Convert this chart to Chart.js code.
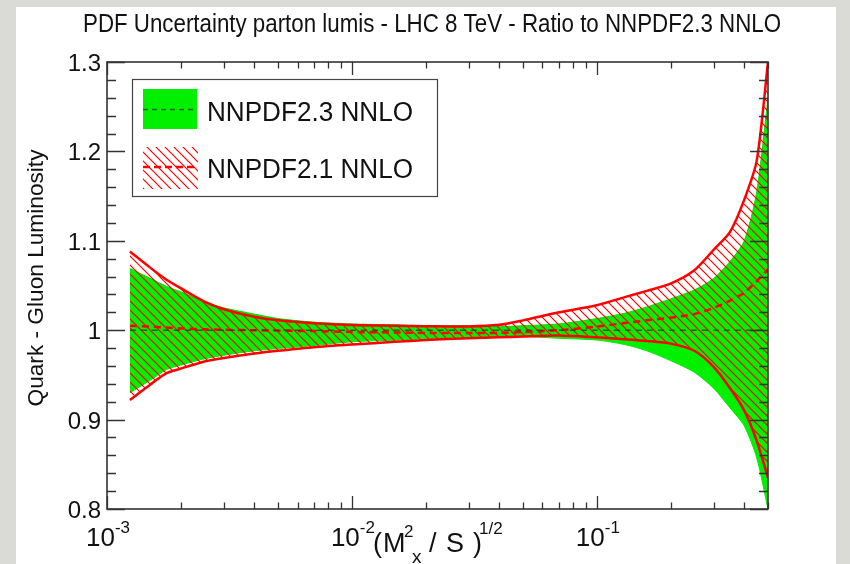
<!DOCTYPE html>
<html>
<head>
<meta charset="utf-8">
<script src="https://cdn.jsdelivr.net/npm/chart.js@4.4.0/dist/chart.umd.min.js"></script>
<style>
  html, body { margin: 0; padding: 0; background: #dadad6; }
  canvas { display: block; }
</style>
</head>
<body>
<canvas id="lumi" width="850" height="564"></canvas>
<script>
// ( M_X^2 / S )^1/2 sampling points
const tau = [0.00124, 0.0015, 0.00175, 0.002, 0.0025, 0.003, 0.004, 0.005, 0.007, 0.01, 0.015, 0.02, 0.03, 0.04, 0.05, 0.07, 0.1, 0.13, 0.16, 0.2, 0.25, 0.3, 0.35, 0.4, 0.45, 0.5];

// NNPDF2.3 NNLO band (the reference, so the central value is 1)
const nn23Central = [1, 1, 1, 1, 1, 1, 1, 1, 1, 1, 1, 1, 1, 1, 1, 1, 1, 1, 1, 1, 1, 1, 1, 1, 1, 1];
const nn23Up   = [1.069, 1.058, 1.049, 1.043, 1.032, 1.025, 1.018, 1.013, 1.009, 1.007, 1.006, 1.005, 1.005, 1.004, 1.005, 1.007, 1.013, 1.019, 1.026, 1.035, 1.045, 1.058, 1.077, 1.100, 1.155, 1.260];
const nn23Down = [0.930, 0.944, 0.956, 0.961, 0.968, 0.972, 0.977, 0.9795, 0.983, 0.987, 0.989, 0.9905, 0.992, 0.993, 0.993, 0.991, 0.989, 0.984, 0.977, 0.966, 0.953, 0.935, 0.913, 0.893, 0.857, 0.800];

// NNPDF2.1 NNLO band
const nn21Central = [1.005, 1.004, 1.003, 1.002, 1.001, 1.0005, 1.000, 0.9995, 0.999, 0.998, 0.9975, 0.997, 0.997, 0.997, 0.998, 1.000, 1.004, 1.008, 1.011, 1.014, 1.018, 1.025, 1.033, 1.042, 1.055, 1.068];
const nn21Up   = [1.088, 1.070, 1.0565, 1.047, 1.032, 1.0235, 1.015, 1.011, 1.0077, 1.0057, 1.005, 1.0045, 1.0042, 1.006, 1.011, 1.020, 1.028, 1.037, 1.044, 1.052, 1.067, 1.090, 1.110, 1.146, 1.190, 1.300];
const nn21Down = [0.922, 0.939, 0.952, 0.957, 0.965, 0.969, 0.974, 0.977, 0.981, 0.984, 0.987, 0.989, 0.991, 0.992, 0.993, 0.994, 0.992, 0.990, 0.988, 0.985, 0.977, 0.959, 0.935, 0.910, 0.876, 0.835];

// axis ticks
const yTicks = [0.8, 0.9, 1.0, 1.1, 1.2, 1.3];
const yTickLabels = ['0.8', '0.9', '1', '1.1', '1.2', '1.3'];
const xDecades = [0.001, 0.01, 0.1];
const xDecadeExp = ['-3', '-2', '-1'];

const legendNames = ['NNPDF2.3 NNLO', 'NNPDF2.1 NNLO'];
const title = 'PDF Uncertainty parton lumis - LHC 8 TeV - Ratio to NNPDF2.3 NNLO';
const yTitle = 'Quark - Gluon Luminosity';

const GREEN = '#00f000';
const RED = '#ff0000';
const FONT = '"Liberation Sans", Arial, Helvetica, sans-serif';

let canvas = document.getElementById('lumi');
let ctx = canvas.getContext('2d');

function makeHatch(c){
  let s = 9;
  let p = document.createElement('canvas');
  p.width = s; p.height = s;
  let g = p.getContext('2d');
  g.strokeStyle = RED;
  g.lineWidth = 1.2;
  g.beginPath();
  g.moveTo(-1, -1); g.lineTo(s + 1, s + 1);
  g.moveTo(-1, s - 1); g.lineTo(1, s + 1);
  g.moveTo(s - 1, -1); g.lineTo(s + 1, 1);
  g.stroke();
  return c.createPattern(p, 'repeat');
}
let hatch = makeHatch(ctx);

function pts(ys){
  return tau.map((t, i) => ({x: t, y: ys[i]}));
}

// draw text, optionally squeezed/stretched to a given width
function txt(c, str, x, y, size, width, align){
  c.save();
  c.font = size + 'px ' + FONT;
  c.textBaseline = 'alphabetic';
  let w = c.measureText(str).width;
  let k = width ? width / w : 1;
  c.translate(x, y);
  c.scale(k, 1);
  c.textAlign = align || 'left';
  c.fillText(str, 0, 0);
  c.restore();
  return w * k;
}

const panel = {
  id: 'panel',
  beforeDraw(chart){
    let c = chart.ctx;
    c.save();
    c.fillStyle = '#dadad6';
    c.fillRect(0, 0, chart.width, chart.height);
    c.fillStyle = '#ffffff';
    c.fillRect(16, 7, 820, 557);
    c.restore();
  }
};

const frame = {
  id: 'frame',
  afterDraw(chart){
    let c = chart.ctx, a = chart.chartArea;
    let xs = chart.scales.x, ys = chart.scales.y;
    c.save();
    c.fillStyle = '#111';

    // title
    txt(c, title, 83, 32, 25, 698);

    // frame
    c.strokeStyle = '#333';
    c.lineWidth = 1.6;
    c.strokeRect(a.left, a.top, a.right - a.left, a.bottom - a.top);

    // y ticks, both sides, pointing in
    c.lineWidth = 1.3;
    c.beginPath();
    for (let i = 0; i <= 25; i++){
      let py = Math.round(ys.getPixelForValue(0.8 + i * 0.02)) + 0.5;
      let len = i % 5 === 0 ? 18 : 9;
      c.moveTo(a.left, py); c.lineTo(a.left + len, py);
      c.moveTo(a.right, py); c.lineTo(a.right - len, py);
    }
    // x ticks, top and bottom
    xDecades.forEach(d => {
      for (let m = 1; m <= 9; m++){
        let v = m * d;
        if (v > 0.5) break;
        let px = Math.round(xs.getPixelForValue(v)) + 0.5;
        let len = m === 1 ? 13 : 6.5;
        c.moveTo(px, a.bottom); c.lineTo(px, a.bottom - len);
        c.moveTo(px, a.top); c.lineTo(px, a.top + len);
      }
    });
    c.stroke();

    // y labels
    yTicks.forEach((v, i) => {
      let py = ys.getPixelForValue(v);
      txt(c, yTickLabels[i], a.left - 6, py + 9, 24, 0, 'right');
    });

    // x labels 10^n
    xDecades.forEach((d, i) => {
      let px = xs.getPixelForValue(d);
      c.font = '26px ' + FONT;
      let w1 = c.measureText('10').width;
      c.font = '17px ' + FONT;
      let w2 = c.measureText(xDecadeExp[i]).width;
      let x0 = px - (w1 + w2) / 2 + 1;
      txt(c, '10', x0, 546, 26);
      txt(c, xDecadeExp[i], x0 + w1, 533, 17);
    });

    // x title ( M_X^2 / S )^1/2
    txt(c, '(', 373, 552, 27);
    txt(c, 'M', 383, 552, 27);
    txt(c, '2', 404, 537, 17);
    txt(c, 'x', 412, 563, 19);
    txt(c, '/', 429, 552, 27);
    txt(c, 'S', 446, 552, 27);
    txt(c, ')', 473, 552, 27);
    txt(c, '1/2', 479, 534, 17);

    // y title
    c.save();
    c.translate(43, 278);
    c.rotate(-Math.PI / 2);
    txt(c, yTitle, 0, 0, 22, 257, 'center');
    c.restore();

    // legend
    c.fillStyle = '#fff';
    c.fillRect(132, 79, 306, 118);
    c.strokeStyle = '#444';
    c.lineWidth = 1.2;
    c.strokeRect(132.5, 79.5, 305, 117);
    c.fillStyle = GREEN;
    c.fillRect(143, 89, 54, 40);
    c.setLineDash([5, 4]);
    c.strokeStyle = 'rgba(40,60,40,0.8)';
    c.lineWidth = 1.4;
    c.beginPath(); c.moveTo(143, 109.5); c.lineTo(197, 109.5); c.stroke();
    c.setLineDash([]);
    c.fillStyle = hatch;
    c.fillRect(143, 147, 55, 42);
    c.setLineDash([7, 4]);
    c.strokeStyle = RED;
    c.lineWidth = 2.5;
    c.beginPath(); c.moveTo(143, 167); c.lineTo(198, 167); c.stroke();
    c.setLineDash([]);
    c.fillStyle = '#111';
    txt(c, legendNames[0], 207, 121, 27, 206);
    txt(c, legendNames[1], 207, 178, 27, 206);

    c.restore();
  }
};

let chart = new Chart(ctx, {
  type: 'line',
  data: {
    datasets: [
      { label: 'NNPDF2.3 up', data: pts(nn23Up), borderColor: '#00dd00', borderWidth: 1, backgroundColor: GREEN, fill: '+1', order: 6 },
      { label: 'NNPDF2.3 down', data: pts(nn23Down), borderColor: '#00dd00', borderWidth: 1, fill: false, order: 6 },
      { label: 'NNPDF2.1 up', data: pts(nn21Up), borderColor: RED, borderWidth: 2.5, backgroundColor: hatch, fill: '+1', order: 4 },
      { label: 'NNPDF2.1 down', data: pts(nn21Down), borderColor: RED, borderWidth: 2.5, fill: false, order: 4 },
      { label: 'NNPDF2.1 central', data: pts(nn21Central), borderColor: RED, borderWidth: 2.5, borderDash: [7, 5], fill: false, order: 2 },
      { label: 'NNPDF2.3 central', data: pts(nn23Central), borderColor: 'rgba(40,60,40,0.75)', borderWidth: 1.5, borderDash: [6, 5], fill: false, order: 1 }
    ]
  },
  options: {
    responsive: false,
    animation: false,
    layout: { padding: { left: 107, right: 82, top: 62, bottom: 55 } },
    elements: { point: { radius: 0 }, line: { tension: 0.25 } },
    plugins: { legend: { display: false }, tooltip: { enabled: false } },
    scales: {
      x: { type: 'logarithmic', min: 0.001, max: 0.5, display: false },
      y: { type: 'linear', min: 0.8, max: 1.3, display: false }
    }
  },
  plugins: [panel, frame]
});
</script>
</body>
</html>
